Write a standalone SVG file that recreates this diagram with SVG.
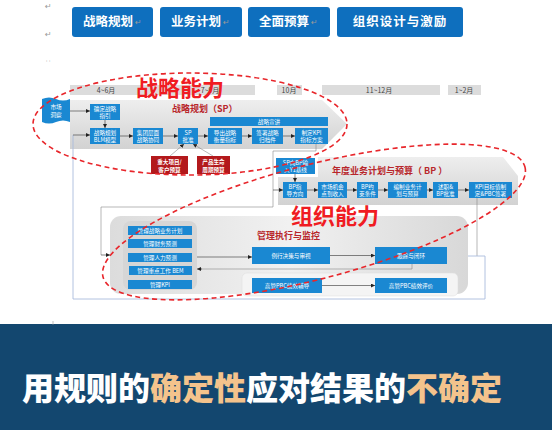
<svg xmlns="http://www.w3.org/2000/svg" width="552" height="430" viewBox="0 0 552 430">
<defs>
<style>
.f{font-family:"Noto Sans CJK SC","Noto Sans",sans-serif}
.btn{fill:#0e6fbe}
.bt{font-family:"Noto Sans CJK SC",sans-serif;font-size:12.5px;font-weight:bold;fill:#fff;text-anchor:middle}
.ret{font-family:"DejaVu Sans",sans-serif;font-size:8px;fill:#999}
.b{fill:#1a88d2}
.r{fill:#b3191c}
.t{font-family:"Noto Sans CJK SC",sans-serif;font-size:5.6px;fill:#fff;text-anchor:middle}
.tl{font-family:"Noto Sans CJK SC",sans-serif;font-size:7px;fill:#444;text-anchor:middle}
.hd{font-family:"Noto Sans CJK SC",sans-serif;font-weight:bold;fill:#b8262b}
.big{font-family:"Noto Sans CJK SC",sans-serif;font-size:22px;font-weight:bold;fill:#f01c22}
.ln{stroke:#333;stroke-width:.6;fill:none}
.ar{marker-end:url(#ah)}
.loop{stroke:#a9bbdd;stroke-width:.9;fill:none}
.gl{stroke:#888;stroke-width:.6;fill:none}
.dash{stroke:#e8262b;stroke-width:1.6;stroke-dasharray:5 3.5;fill:none}
</style>
<marker id="ah" viewBox="0 0 6 6" refX="6" refY="3" markerWidth="4" markerHeight="4" orient="auto" markerUnits="userSpaceOnUse"><path d="M0,0 L6,3 L0,6 z" fill="#222"/></marker>
<linearGradient id="gp" x1="0" y1="0" x2="0" y2="1"><stop offset="0" stop-color="#eeeeee"/><stop offset="1" stop-color="#d2d2d2"/></linearGradient>
<linearGradient id="gq" x1="0" y1="0" x2="1" y2="0"><stop offset="0" stop-color="#dcdcdc"/><stop offset=".5" stop-color="#f1f1f1"/><stop offset="1" stop-color="#d8d8d8"/></linearGradient>
</defs>
<rect width="552" height="430" fill="#fff"/>

<g id="marks">
<text class="ret" x="45" y="9">↵</text>
<text class="ret" x="45" y="37">↵</text>
<text class="ret" x="46" y="64" style="font-size:5px">' '</text>
</g>

<g id="buttons">
<g id="btn1"><rect class="btn" x="72" y="7" width="81" height="30" rx="3"/><text class="bt" x="108" y="25.5">战略规划</text><text class="ret" x="135" y="25">↵</text></g>
<g id="btn2"><rect class="btn" x="160" y="7" width="82" height="30" rx="3"/><text class="bt" x="196" y="25.5">业务计划</text><text class="ret" x="223" y="25">↵</text></g>
<g id="btn3"><rect class="btn" x="248" y="7" width="82" height="30" rx="3"/><text class="bt" x="284" y="25.5">全面预算</text><text class="ret" x="311" y="25">↵</text></g>
<g id="btn4"><rect class="btn" x="337" y="7" width="126" height="30" rx="3"/><text class="bt" x="400" y="25.5" style="letter-spacing:1px">组织设计与激励</text></g>
</g>

<g id="timeline">
<rect x="70" y="85" width="185" height="10" fill="#dcdcdc"/>
<rect x="277" y="85" width="25" height="10" fill="#dcdcdc"/>
<rect x="322" y="85" width="118" height="10" fill="#dcdcdc"/>
<rect x="448" y="85" width="33" height="10" fill="#dcdcdc"/>
<text class="tl" x="106" y="92.5">4~6月</text>
<text class="tl" x="210" y="92.5">7~9月</text>
<text class="tl" x="289" y="92.5">10月</text>
<text class="tl" x="379" y="92.5">11~12月</text>
<text class="tl" x="464" y="92.5">1~2月</text>
</g>

<g id="sp-panel">
<path d="M70,100 H322 L347,124 L322,149 H70 Z" fill="url(#gp)"/>
<text class="hd" x="172" y="112" style="font-size:9px">战略规划（SP）</text>
</g>

<g id="bp-panel">
<path d="M318,157 H503 L518,176 V205 H278 V177 H318 Z" fill="url(#gp)"/>
<text class="hd" x="332" y="174" style="font-size:9px">年度业务计划与预算（ BP ）</text>
</g>

<g id="exec-panel">
<rect x="110" y="216" width="358" height="78" rx="11" fill="url(#gq)"/>
<rect x="123" y="221" width="74" height="69" rx="8" fill="#d6d6d6"/>
<rect x="242" y="273" width="216" height="23" rx="5" fill="#f4f4f4" stroke="#ddd" stroke-width=".5"/>
<text class="hd" x="257" y="239" style="font-size:9px">管理执行与监控</text>
</g>

<g id="connectors">
<path class="ln ar" d="M70,111 H90"/>
<path class="ln ar" d="M105,120 V128"/>
<path class="ln ar" d="M120,136 H133"/>
<path class="ln ar" d="M163,136 H178"/>
<path class="ln ar" d="M198,136 H208"/>
<path class="ln ar" d="M242,136 H252"/>
<path class="ln ar" d="M283,136 H295"/>
<path class="gl ar" d="M170,156 L184,144"/>
<path class="gl ar" d="M213,156 L193,144"/>
<path class="gl" d="M316,144 V151 H273 V207 H101 V255"/>
<path class="ln ar" d="M101,255 H110"/>
<path class="ln ar" d="M273,190 H283"/>
<path class="ln ar" d="M295,174 V182"/>
<path class="ln ar" d="M307,190 H318"/>
<path class="ln ar" d="M347,190 H357"/>
<path class="ln ar" d="M378,190 H388"/>
<path class="ln ar" d="M427,190 H433"/>
<path class="ln ar" d="M458,190 H469"/>
<path class="gl" d="M477,198 V256"/>
<path class="ln ar" d="M197,257 H252"/>
<path class="ln ar" d="M330,255.5 H375"/>
<path class="ln ar" d="M322,285.5 H375"/>
<path class="gl" d="M412,264 V269 H200"/>
<path class="ln ar" d="M202,269 H197"/>
<path class="loop" d="M468,256 H485 V299 H73 V135"/>
<path class="ln ar" d="M73,135 H90"/>
</g>

<g id="n-market"><path class="b" d="M42,99 q7,-3 14,0 t14,0 v23 q-7,-3 -14,0 t-14,0 z"/><text class="t" x="56" y="109">市场</text><text class="t" x="56" y="117">洞察</text></g>
<g id="n-guide"><rect class="b" x="90" y="104" width="30" height="16"/><text class="t" x="105" y="111">确定战略</text><text class="t" x="105" y="118">指引</text></g>
<g id="n-blm"><rect class="b" x="90" y="128" width="30" height="16"/><text class="t" x="105" y="135">战略规划</text><text class="t" x="105" y="142">BLM模型</text></g>
<g id="n-group"><rect class="b" x="133" y="128" width="30" height="16"/><text class="t" x="148" y="135">集团层面</text><text class="t" x="148" y="142">战略协同</text></g>
<g id="n-spok"><rect class="b" x="178" y="128" width="20" height="16"/><text class="t" x="188" y="135">SP</text><text class="t" x="188" y="142">批准</text></g>
<g id="n-export"><rect class="b" x="208" y="128" width="34" height="16"/><text class="t" x="225" y="135">导出战略</text><text class="t" x="225" y="142">衡量指标</text></g>
<g id="n-sign"><rect class="b" x="252" y="128" width="31" height="16"/><text class="t" x="267.5" y="135">签署战略</text><text class="t" x="267.5" y="142">归档件</text></g>
<g id="n-kpi"><rect class="b" x="295" y="128" width="33" height="16"/><text class="t" x="311.5" y="135">制定KPI</text><text class="t" x="311.5" y="142">指标方案</text></g>
<g id="n-preach"><rect class="b" x="210" y="117" width="118" height="9"/><text class="t" x="269" y="123.5">战略宣讲</text></g>
<g id="n-major"><rect class="r" x="151" y="156" width="37" height="18"/><text class="t" x="169.5" y="164" style="font-weight:bold">重大项目/</text><text class="t" x="169.5" y="171.5" style="font-weight:bold">客户预算</text></g>
<g id="n-life"><rect class="r" x="197" y="156" width="33" height="18"/><text class="t" x="213.5" y="164" style="font-weight:bold">产品生命</text><text class="t" x="213.5" y="171.5" style="font-weight:bold">周期预算</text></g>

<g id="n-y1"><rect class="b" x="276" y="158" width="39" height="16"/><text class="t" x="295.5" y="165">SP向BP输</text><text class="t" x="295.5" y="172">入Y1基线</text></g>
<g id="n-bpdir"><rect class="b" x="283" y="182" width="24" height="16"/><text class="t" x="295" y="189">BP指</text><text class="t" x="295" y="196">导方向</text></g>
<g id="n-opp"><rect class="b" x="318" y="182" width="29" height="16"/><text class="t" x="332.5" y="189">市场机会</text><text class="t" x="332.5" y="196">点到收入</text></g>
<g id="n-cons"><rect class="b" x="357" y="182" width="21" height="16"/><text class="t" x="367.5" y="189">BP约</text><text class="t" x="367.5" y="196">束条件</text></g>
<g id="n-plan"><rect class="b" x="388" y="182" width="39" height="16"/><text class="t" x="407.5" y="189">编制业务计</text><text class="t" x="407.5" y="196">划与预算</text></g>
<g id="n-bpok"><rect class="b" x="433" y="182" width="25" height="16"/><text class="t" x="445.5" y="189">述职&amp;</text><text class="t" x="445.5" y="196">BP批准</text></g>
<g id="n-pbc"><rect class="b" x="469" y="182" width="43" height="16"/><text class="t" x="490.5" y="189">KPI目标值制</text><text class="t" x="490.5" y="196">定&amp;PBC签署</text></g>

<g id="n-m1"><rect class="b" x="128" y="226" width="64" height="9"/><text class="t" x="160" y="232.6">管理战略业务计划</text></g>
<g id="n-m2"><rect class="b" x="128" y="239" width="64" height="9"/><text class="t" x="160" y="245.6">管理财务预测</text></g>
<g id="n-m3"><rect class="b" x="128" y="253" width="64" height="9"/><text class="t" x="160" y="259.6">管理人力预测</text></g>
<g id="n-m4"><rect class="b" x="129" y="266" width="63" height="9"/><text class="t" x="160.5" y="272.6">管理重点工作 BEM</text></g>
<g id="n-m5"><rect class="b" x="128" y="280" width="64" height="9"/><text class="t" x="160" y="286.6">管理KPI</text></g>
<g id="n-review"><rect class="b" x="252" y="247" width="78" height="17"/><text class="t" x="291" y="257.5">例行决策与审视</text></g>
<g id="n-track"><rect class="b" x="375" y="247" width="72" height="17"/><text class="t" x="411" y="257.5">跟踪与闭环</text></g>
<g id="n-coach"><rect class="b" x="252" y="278" width="70" height="15"/><text class="t" x="287" y="287.5">高管PBC绩效辅导</text></g>
<g id="n-eval"><rect class="b" x="375" y="278" width="72" height="15"/><text class="t" x="411" y="287.5">高管PBC绩效评价</text></g>

<g id="callouts">
<ellipse class="dash" cx="190" cy="124" rx="157" ry="51"/>
<ellipse class="dash" cx="314" cy="222" rx="218" ry="57" transform="rotate(-14.6 314 222)"/>
<text class="big" x="136" y="96">战略能力</text>
<text class="big" x="291" y="224">组织能力</text>
</g>

<g id="banner">
<rect x="0" y="324" width="552" height="106" fill="#13476f"/>
<line x1="53" y1="321" x2="53" y2="325" stroke="#999" stroke-width=".6"/>
<text x="22" y="400" style="font-family:'Noto Sans CJK SC',sans-serif;font-size:32px;font-weight:900;fill:#fff">用规则的<tspan fill="#f4c38c">确定性</tspan>应对结果的<tspan fill="#f4c38c">不确定</tspan></text>
</g>
</svg>
